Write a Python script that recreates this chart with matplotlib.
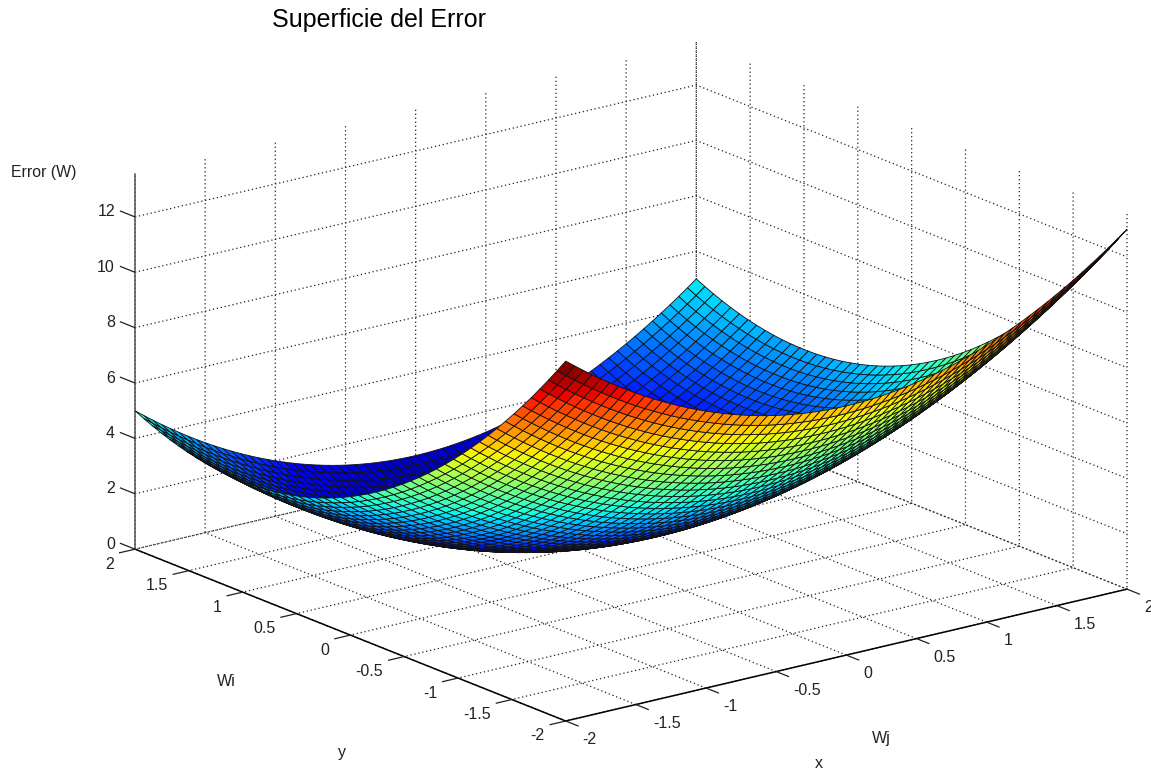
import numpy as np
import matplotlib
matplotlib.use("Agg")
import matplotlib.pyplot as plt
from mpl_toolkits.mplot3d import proj3d

plt.rcParams['font.family'] = ['Liberation Sans', 'DejaVu Sans']

# Height contributed along Wj (edge profile of the bowl, read at the Wi minimum)
wj_profile = [4.000, 3.754, 3.516, 3.285, 3.063, 2.848, 2.641, 2.441, 2.250, 2.066, 1.891,
              1.723, 1.563, 1.410, 1.266, 1.129, 1.000, 0.879, 0.766, 0.660, 0.563, 0.473,
              0.391, 0.316, 0.250, 0.191, 0.141, 0.098, 0.063, 0.035, 0.016, 0.004, 0.000,
              0.004, 0.016, 0.035, 0.063, 0.098, 0.141, 0.191, 0.250, 0.316, 0.391, 0.473,
              0.563, 0.660, 0.766, 0.879, 1.000, 1.129, 1.266, 1.410, 1.563, 1.723, 1.891,
              2.066, 2.250, 2.441, 2.641, 2.848, 3.063, 3.285, 3.516, 3.754, 4.000]
# Height contributed along Wi (edge profile of the bowl, read at Wj = 0)
wi_profile = [9.000, 8.526, 8.066, 7.618, 7.182, 6.760, 6.350, 5.954, 5.570, 5.198,
              4.840, 4.494, 4.162, 3.842, 3.534, 3.240, 2.958, 2.690, 2.434, 2.190,
              1.960, 1.742, 1.538, 1.346, 1.166, 1.000, 0.846, 0.706, 0.578, 0.462,
              0.360, 0.270, 0.194, 0.130, 0.078, 0.040, 0.014, 0.002, 0.002, 0.014,
              0.040, 0.078, 0.130, 0.194, 0.270, 0.360, 0.462, 0.578, 0.706, 0.846,
              1.000]

# Grid of the surface (one node per profile value, Wj = x, Wi = y)
wj_nodes = np.linspace(-2, 2, len(wj_profile))
wi_nodes = np.linspace(-2, 2, len(wi_profile))

xy_ticks = [-2, -1.5, -1, -0.5, 0, 0.5, 1, 1.5, 2]
xy_tick_labels = ['-2', '-1.5', '-1', '-0.5', '0', '0.5', '1', '1.5', '2']
z_ticks = [0, 2, 4, 6, 8, 10, 12]
z_tick_labels = ['0', '2', '4', '6', '8', '10', '12']
z_top = 13.55
color_max = 13

W, H = 1151, 769
fig = plt.figure(figsize=(W / 100, H / 100), dpi=100, facecolor='white')
ax = fig.add_axes([0, 0, 1, 1], projection='3d', proj_type='ortho')
ax.view_init(elev=30, azim=-127.5)
ax.set_box_aspect((1, 1, 1))
ax.set_xlim(-2, 2, view_margin=0)
ax.set_ylim(-2, 2, view_margin=0)
ax.set_zlim(0, z_top, view_margin=0)
# allow the stretched (non-square) projection of the original figure
ax.apply_aspect = lambda position=None: None
ax.patch.set_visible(False)


def to2d(x, y, z):
    px, py, _ = proj3d.proj_transform(x, y, z, ax.get_proj())
    return px, py


def to_px(x, y, z):
    return ax.transData.transform(to2d(x, y, z))


# Fit the axes box so the box corners land where they are in the reference
ax.set_position([0, 0, 1, 1], which='both')
left = to_px(-2, 2, 0) / (W, H)
right = to_px(2, -2, 0) / (W, H)
front = to_px(-2, -2, 0) / (W, H)
top = to_px(-2, 2, z_top) / (W, H)
ww = (1127 - 135) / (right[0] - left[0])
x0 = 135 - ww * left[0]
hh = ((H - 174) - (H - 721)) / (top[1] - front[1])
y0 = (H - 721) - hh * front[1]
ax.set_position([x0 / W, y0 / H, ww / W, hh / H], which='both')

X, Y = np.meshgrid(wj_nodes, wi_nodes)
Z = np.add.outer(np.array(wi_profile), np.array(wj_profile))
# each face takes the colour of its first vertex, as in the original renderer
face_colors = plt.get_cmap('jet', 64)(Z / color_max)
ax.plot_surface(X, Y, Z, rstride=1, cstride=1, facecolors=face_colors,
                shade=False, edgecolor='#111111', linewidth=0.6, antialiased=True)

ax.set_xticks(xy_ticks)
ax.set_yticks(xy_ticks)
ax.set_zticks(z_ticks)
ax.set_xticklabels([])
ax.set_yticklabels([])
ax.set_zticklabels([])
for axis in (ax.xaxis, ax.yaxis, ax.zaxis):
    axis.set_pane_color((1, 1, 1, 0))
    axis.pane.set_edgecolor((1, 1, 1, 0))
    axis.line.set_color('black')
    axis.line.set_linewidth(1.1)
    axis._axinfo['grid'].update(color='#222222', linewidth=0.9, linestyle=(0, (1, 2.2)))
    axis._axinfo['tick'].update(outward_factor=0.0, inward_factor=0.0,
                                linewidth={True: 0, False: 0})
ax.zaxis.line.set_visible(False)

# Axis line and tick marks on the left corner, tick marks parallel to the other axis
tick_kw = dict(color='#222222', linewidth=0.9, solid_capstyle='butt')
ax.plot([-2, -2], [2, 2], [0, z_top], color='#555555', linewidth=1.1)
x_tick_len, y_tick_len, z_tick_len = 0.12, 0.115, 0.14
for t in xy_ticks:
    ax.plot([t, t], [-2, -2 - x_tick_len], [0, 0], **tick_kw)
    ax.plot([-2, -2 - y_tick_len], [t, t], [0, 0], **tick_kw)
for t in z_ticks:
    ax.plot([-2, -2], [2, 2 + z_tick_len], [t, t], **tick_kw)
ax.set_xlim(-2, 2, view_margin=0)
ax.set_ylim(-2, 2, view_margin=0)
ax.set_zlim(0, z_top, view_margin=0)

text_kw = dict(color='#222222', fontsize=11.5, annotation_clip=False, xycoords='data',
               textcoords='offset pixels', va='center')
for t, s in zip(xy_ticks, xy_tick_labels):
    ax.annotate(s, to2d(t, -2, 0), xytext=(17, -18.5), ha='left', **text_kw)
    ax.annotate(s, to2d(-2, t, 0), xytext=(-21, -15), ha='right', **text_kw)
for t, s in zip(z_ticks, z_tick_labels):
    ax.annotate(s, to2d(-2, 2, t), xytext=(-20, 5), ha='right', **text_kw)


def ftext(px, py, s, **kw):
    fig.text(px / W, 1 - py / H, s, va='center', **kw)


ftext(272, 20, 'Superficie del Error', fontsize=18, color='black', ha='left')
ftext(11, 173, 'Error (W)', fontsize=11.4, color='#222222', ha='left')
ftext(226, 682, 'Wi', fontsize=11.5, color='#222222', ha='center')
ftext(342, 753, 'y', fontsize=11.5, color='#222222', ha='center')
ftext(881, 738, 'Wj', fontsize=11.5, color='#222222', ha='center')
ftext(819, 763, 'x', fontsize=11.5, color='#222222', ha='center')

fig.savefig('out.png', dpi=100, facecolor='white')
